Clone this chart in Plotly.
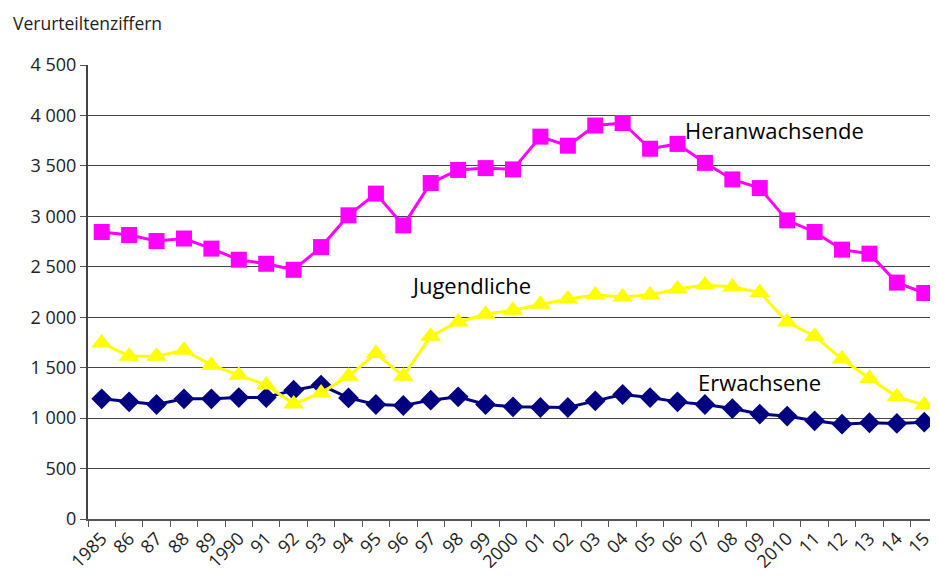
import plotly.graph_objects as go

years = ["1985", "86", "87", "88", "89", "1990", "91", "92", "93", "94", "95", "96", "97", "98", "99",
         "2000", "01", "02", "03", "04", "05", "06", "07", "08", "09", "2010", "11", "12", "13", "14", "15"]

heranwachsende = [2845, 2815, 2755, 2780, 2680, 2570, 2530, 2470, 2695, 3010, 3225, 2910, 3330, 3460, 3478,
                  3465, 3790, 3700, 3900, 3925, 3670, 3718, 3530, 3366, 3280, 2960, 2845, 2670, 2630, 2343, 2240]
jugendliche = [1745, 1614, 1614, 1673, 1525, 1426, 1327, 1139, 1250, 1416, 1640, 1416, 1812, 1953, 2030,
               2069, 2128, 2180, 2220, 2200, 2220, 2280, 2320, 2300, 2245, 1953, 1812, 1585, 1393, 1211, 1130]
erwachsene = [1191, 1161, 1135, 1191, 1191, 1204, 1204, 1277, 1327, 1200, 1135, 1125, 1178, 1211, 1135,
              1112, 1105, 1105, 1171, 1234, 1204, 1161, 1135, 1095, 1040, 1020, 973, 940, 954, 947, 960]

y_ticks = [0, 500, 1000, 1500, 2000, 2500, 3000, 3500, 4000, 4500]
y_tick_text = ["0", "500", "1 000", "1 500", "2 000", "2 500", "3 000", "3 500", "4 000", "4 500"]

FONT = "Open Sans, Noto Sans, sans-serif"

fig = go.Figure()
fig.add_trace(go.Scatter(x=years, y=erwachsene, mode="lines+markers", name="Erwachsene",
                         line=dict(color="#000080", width=3),
                         marker=dict(symbol="diamond", size=16, color="#000080")))
fig.add_trace(go.Scatter(x=years, y=jugendliche, mode="lines+markers", name="Jugendliche",
                         line=dict(color="#FFFF00", width=3),
                         marker=dict(symbol="triangle-up", size=18, color="#FFFF00")))
fig.add_trace(go.Scatter(x=years, y=heranwachsende, mode="lines+markers", name="Heranwachsende",
                         line=dict(color="#FF00FF", width=3),
                         marker=dict(symbol="square", size=16, color="#FF00FF")))

# page offset of the figure (browser body margin)
OFF = 8
W, H = 938 - OFF, 579 - OFF
L, R, T, B = 88 - OFF, 0, 65 - OFF, 60
pw, ph = W - L - R, H - T - B

def px(x):
    return (x - OFF - L) / pw

def py(y):
    return (H - B - (y - OFF)) / ph

fig.update_layout(
    width=W, height=H,
    margin=dict(l=L, r=R, t=T, b=B, autoexpand=False),
    paper_bgcolor="white", plot_bgcolor="white",
    showlegend=False,
    font=dict(family=FONT, size=16, color="#000000"),
    xaxis=dict(type="category", range=[-0.5, 30.5], tickson="boundaries",
               ticks="outside", ticklen=6, tickcolor="#555555",
               showline=True, linecolor="#555555", linewidth=2,
               showgrid=False, tickangle=-45, automargin=False,
               tickfont=dict(size=18, color="#222222")),
    yaxis=dict(range=[0, 4500], tickvals=y_ticks, ticktext=y_tick_text,
               ticks="outside", ticklen=6, tickcolor="#555555",
               showline=True, linecolor="#444444", linewidth=2,
               showgrid=True, gridcolor="#444444", gridwidth=1, automargin=False,
               zeroline=False, tickfont=dict(size=18, color="#222222")),
    annotations=[
        dict(text="Verurteiltenziffern", xref="paper", yref="paper", x=px(11), y=py(9),
             xanchor="left", yanchor="top", showarrow=False, font=dict(size=17.5, color="#222222")),
        dict(text="Heranwachsende", xref="paper", yref="paper", x=px(683), y=py(130),
             xanchor="left", yanchor="middle", showarrow=False, font=dict(size=22)),
        dict(text="Jugendliche", xref="paper", yref="paper", x=px(409), y=py(285),
             xanchor="left", yanchor="middle", showarrow=False, font=dict(size=22)),
        dict(text="Erwachsene", xref="paper", yref="paper", x=px(696), y=py(382),
             xanchor="left", yanchor="middle", showarrow=False, font=dict(size=22)),
    ],
)

fig.write_html("out.html")
